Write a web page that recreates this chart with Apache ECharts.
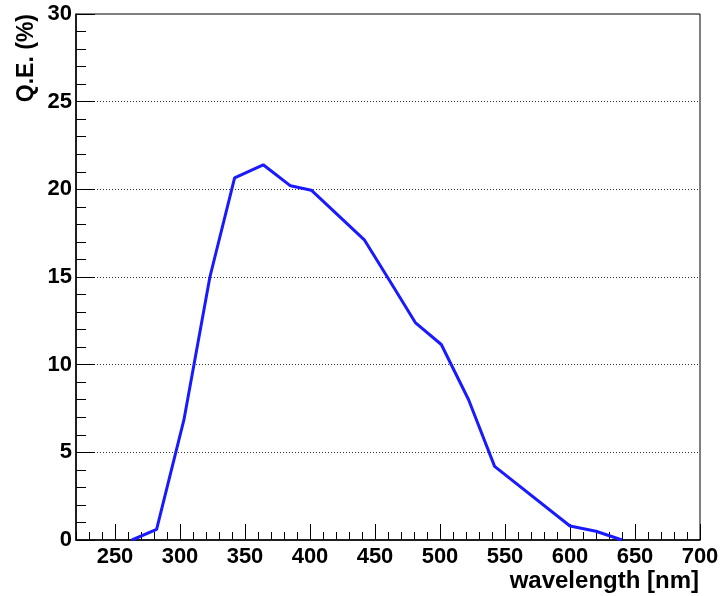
<!DOCTYPE html>
<html>
<head>
<meta charset="utf-8">
<script src="https://cdn.jsdelivr.net/npm/echarts@6/dist/echarts.min.js"></script>
<style>
  html, body { margin: 0; padding: 0; background: #fff; }
  #chart { width: 723px; height: 596px; }
</style>
</head>
<body>
<div id="chart"></div>
<script>
// wavelength (nm) and quantum efficiency (%)
const wavelength = [263, 282, 303, 323, 342, 364, 385, 401, 442, 462, 481, 501, 522, 542, 600, 620, 640]
const qe = [0, 0.6, 6.85, 15.0, 20.65, 21.4, 20.2, 19.95, 17.1, 14.7, 12.4, 11.15, 8.0, 4.2, 0.8, 0.5, 0]

const xMajorTicks = [250, 300, 350, 400, 450, 500, 550, 600, 650, 700]

const chart = echarts.init(document.getElementById('chart'))
const font = 'Liberation Sans, Arial, Helvetica, sans-serif'

const option = {
  animation: false,
  grid: {
    left: 76,
    top: 14,
    right: 23,
    bottom: 56,
    show: true,
    borderColor: '#000',
    borderWidth: 1
  },
  xAxis: [
    {
      type: 'value',
      min: 220,
      max: 700,
      interval: 10,
      position: 'bottom',
      axisLine: { show: true, lineStyle: { color: '#000', width: 1.5 } },
      axisTick: {
        show: true,
        inside: true,
        length: 16,
        customValues: xMajorTicks,
        lineStyle: { color: '#000', width: 1 }
      },
      axisLabel: {
        customValues: xMajorTicks,
        color: '#000',
        fontFamily: font,
        fontWeight: 'bold',
        fontSize: 22,
        margin: 6
      },
      splitLine: { show: false }
    },
    {
      // minor 10 nm ticks
      type: 'value',
      min: 220,
      max: 700,
      interval: 10,
      position: 'bottom',
      axisLine: { show: false },
      axisTick: { show: true, inside: true, length: 8, lineStyle: { color: '#000', width: 1 } },
      axisLabel: { show: false },
      splitLine: { show: false }
    }
  ],
  yAxis: {
    type: 'value',
    min: 0,
    max: 30,
    interval: 5,
    axisLine: { show: true, lineStyle: { color: '#000', width: 1.5 } },
    axisTick: { show: true, inside: true, length: 19, lineStyle: { color: '#000', width: 1 } },
    minorTick: { show: true, splitNumber: 5, length: 10, lineStyle: { color: '#000', width: 1 } },
    axisLabel: {
      color: '#000',
      fontFamily: font,
      fontWeight: 'bold',
      fontSize: 22,
      margin: 4
    },
    splitLine: {
      show: true,
      showMinLine: false,
      showMaxLine: false,
      lineStyle: { color: '#333', width: 1, type: [1, 2] }
    }
  },
  graphic: [
    {
      type: 'text',
      x: 27,
      y: 14,
      rotation: Math.PI / 2,
      style: {
        text: 'Q.E. (%)',
        fill: '#000',
        font: 'bold 23px ' + font,
        textAlign: 'right',
        textVerticalAlign: 'middle'
      }
    },
    {
      type: 'text',
      x: 699,
      y: 581,
      style: {
        text: 'wavelength [nm]',
        fill: '#000',
        font: 'bold 24px ' + font,
        textAlign: 'right',
        textVerticalAlign: 'middle'
      }
    }
  ],
  series: [
    {
      type: 'line',
      xAxisIndex: 0,
      data: wavelength.map((w, i) => [w, qe[i]]),
      symbol: 'none',
      lineStyle: { color: '#1a1aff', width: 3 },
      z: 5
    }
  ]
}

chart.setOption(option)
</script>
</body>
</html>
